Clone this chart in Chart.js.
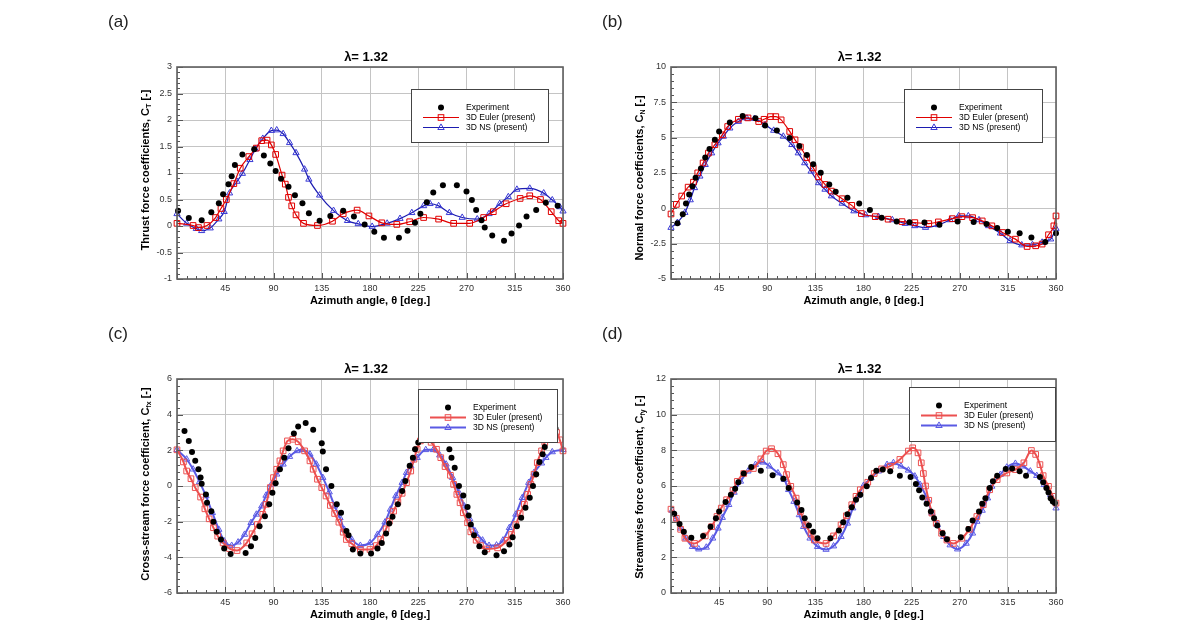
<!DOCTYPE html>
<html>
<head>
<meta charset="utf-8">
<script src="https://cdn.jsdelivr.net/npm/chart.js@4/dist/chart.umd.min.js"></script>
<style>
  body { margin: 0; background: #fff; width: 1197px; height: 639px; overflow: hidden; position: relative; }
  canvas { position: absolute; left: 0; top: 0; }
</style>
</head>
<body>
<canvas id="pa" width="1197" height="639"></canvas>
<canvas id="pb" width="1197" height="639"></canvas>
<canvas id="pc" width="1197" height="639"></canvas>
<canvas id="pd" width="1197" height="639"></canvas>
<script>
// (a) thrust force
const aExpTheta = [1,11,23,32,39,43,48,51,54,61,72,81,87,92,97,104,110,117,123,133,143,155,165,175,184,193,207,215,222,227,233,239,248,261,270,275,279,284,287,294,305,312,319,326,335,344,355];
const aExpVal = [0.29,0.15,0.11,0.26,0.43,0.60,0.79,0.94,1.15,1.35,1.45,1.33,1.18,1.04,0.89,0.74,0.58,0.43,0.24,0.10,0.19,0.29,0.18,0.03,-0.11,-0.22,-0.22,-0.09,0.06,0.23,0.45,0.63,0.77,0.77,0.65,0.49,0.30,0.11,-0.03,-0.18,-0.28,-0.14,0.01,0.18,0.30,0.44,0.38];
const aEulerTheta = [0,15,20,28,36,41,46,53,59,67,74,79,84,88,92,98,101,104,107,111,118,131,145,155,168,179,191,205,217,230,244,258,273,286,295,307,320,329,339,349,356,360];
const aEulerVal = [0.05,0.01,-0.03,0.01,0.16,0.33,0.50,0.80,1.09,1.31,1.47,1.61,1.62,1.53,1.35,0.96,0.79,0.54,0.38,0.21,0.05,0.01,0.09,0.23,0.30,0.19,0.06,0.03,0.08,0.16,0.13,0.05,0.05,0.16,0.27,0.42,0.52,0.57,0.50,0.27,0.10,0.05];
const aNsTheta = [0,9,18,23,31,39,44,49,56,61,68,73,80,88,93,99,105,111,119,123,133,146,159,169,182,196,208,219,230,236,244,254,266,280,291,301,309,317,329,342,350,357,360];
const aNsVal = [0.23,0.05,-0.05,-0.09,-0.04,0.13,0.27,0.62,0.84,0.99,1.25,1.45,1.65,1.80,1.81,1.74,1.57,1.38,1.07,0.88,0.58,0.29,0.10,0.04,-0.01,0.05,0.14,0.25,0.38,0.42,0.38,0.25,0.16,0.13,0.23,0.42,0.55,0.69,0.71,0.62,0.49,0.36,0.28];

// (b) normal force
const bExpTheta = [6,11,14,17,20,23,28,32,36,41,45,55,67,79,88,99,111,120,127,133,140,148,154,165,176,186,197,211,223,237,251,268,283,295,305,315,326,337,350,360];
const bExpVal = [-1.05,-0.42,0.35,0.98,1.57,2.16,2.81,3.59,4.20,4.85,5.44,6.07,6.54,6.37,5.86,5.51,4.97,4.41,3.77,3.12,2.51,1.69,1.17,0.75,0.35,-0.12,-0.66,-0.94,-0.98,-1.0,-1.17,-0.94,-0.96,-1.1,-1.4,-1.66,-1.76,-2.06,-2.39,-1.76];
const bEulerTheta = [0,5,10,16,21,25,30,35,41,48,53,63,72,82,87,93,98,103,111,116,121,127,133,138,144,150,160,169,178,191,203,216,228,241,250,263,272,282,291,300,310,322,333,341,347,353,358,360];
const bEulerVal = [-0.4,0.28,0.87,1.5,1.85,2.51,3.21,3.91,4.5,5.2,5.79,6.3,6.4,6.14,6.3,6.49,6.49,6.26,5.44,4.85,4.34,3.59,2.86,2.23,1.69,1.22,0.68,0.21,-0.37,-0.59,-0.77,-0.94,-1.01,-1.08,-0.96,-0.73,-0.59,-0.66,-0.89,-1.24,-1.71,-2.18,-2.7,-2.65,-2.53,-1.87,-1.24,-0.54];
const bNsTheta = [0,6,13,18,22,27,32,38,44,49,55,63,71,78,88,96,105,113,119,125,131,138,144,150,160,171,182,194,207,219,228,238,250,261,269,278,288,297,308,317,328,338,347,355,360];
const bNsVal = [-1.36,-1.01,-0.3,0.59,1.45,2.27,3.09,3.91,4.62,5.09,5.67,6.14,6.37,6.35,5.91,5.51,5.09,4.5,3.91,3.21,2.62,1.8,1.34,0.87,0.35,-0.19,-0.47,-0.59,-0.82,-1.08,-1.24,-1.36,-1.17,-0.82,-0.54,-0.54,-0.82,-1.24,-1.76,-2.3,-2.6,-2.58,-2.41,-2.18,-1.43];

// (c) cross-stream force
const cExpTheta = [7,11,14,17,20,22,23,27,28,32,34,37,41,44,50,64,69,73,77,82,86,89,92,96,100,104,109,113,120,127,135,136,139,144,149,153,158,160,164,171,181,187,191,195,198,201,206,210,213,217,220,222,225,229,234,240,247,251,254,256,259,263,267,271,272,274,277,282,287,298,305,310,313,317,321,325,329,332,335,338,341,343,353];
const cExpVal = [3.09,2.53,1.91,1.41,0.94,0.47,0.13,-0.47,-0.94,-1.41,-2.0,-2.57,-3.0,-3.51,-3.81,-3.75,-3.38,-2.91,-2.25,-1.69,-1.03,-0.38,0.15,0.94,1.59,2.12,2.94,3.34,3.53,3.15,2.4,1.93,0.94,0.0,-1.03,-1.5,-2.53,-2.76,-3.56,-3.79,-3.79,-3.51,-3.19,-2.66,-2.1,-1.73,-1.03,-0.28,0.28,1.13,1.59,2.06,2.44,3.0,3.4,3.5,3.2,2.7,2.06,1.59,1.03,0.0,-0.53,-1.18,-1.65,-2.16,-2.76,-3.38,-3.71,-3.88,-3.66,-3.28,-2.87,-2.25,-1.78,-1.22,-0.66,0.0,0.66,1.35,1.78,2.19,3.23];
const cEulerTheta = [0,6,9,13,17,22,26,30,34,38,43,49,56,65,70,75,80,83,87,90,93,96,99,103,108,113,119,124,127,131,135,139,143,147,151,155,158,163,171,180,186,190,195,198,202,206,210,214,218,221,224,227,232,237,242,246,250,255,258,261,264,267,271,274,279,283,289,299,308,312,316,320,324,327,330,333,336,340,343,349,354,357,360];
const cEulerVal = [2.03,1.35,0.84,0.41,-0.09,-0.62,-1.28,-1.84,-2.34,-2.81,-3.19,-3.51,-3.62,-3.19,-2.68,-2.16,-1.59,-1.03,-0.09,0.47,0.94,1.41,1.97,2.53,2.62,2.48,1.97,1.41,0.94,0.38,-0.09,-0.56,-1.09,-1.54,-2.03,-2.59,-3.0,-3.23,-3.56,-3.56,-3.34,-3.0,-2.4,-1.97,-1.41,-0.9,-0.41,0.19,0.84,1.5,2.06,2.53,2.6,2.45,2.06,1.59,1.09,0.6,0.09,-0.47,-0.94,-1.5,-2.06,-2.57,-3.04,-3.34,-3.53,-3.47,-3.04,-2.72,-2.16,-1.54,-1.03,-0.47,0.09,0.66,1.31,1.97,2.44,2.91,3.0,2.59,1.97];
const cNsTheta = [0,9,15,21,27,33,39,44,51,57,63,69,74,79,83,88,93,99,105,112,117,124,130,136,142,147,152,156,163,171,180,187,194,199,204,210,214,218,224,232,239,245,251,257,263,268,273,278,285,291,298,304,310,316,322,328,333,340,344,350,360];
const cNsVal = [2.03,1.5,0.94,0.23,-0.56,-1.5,-2.44,-3.09,-3.34,-3.15,-2.72,-2.06,-1.59,-1.13,-0.53,0.09,0.66,1.22,1.65,1.97,2.03,1.78,1.22,0.47,-0.34,-1.13,-1.78,-2.44,-3.0,-3.34,-3.19,-2.72,-2.03,-1.31,-0.56,0.19,0.75,1.13,1.59,2.03,2.03,1.73,1.22,0.47,-0.38,-1.13,-1.84,-2.53,-3.04,-3.34,-3.32,-3.04,-2.34,-1.59,-0.66,0.19,0.75,1.28,1.59,1.91,2.03];

// (d) streamwise force
const dExpTheta = [3,8,12,19,30,37,42,45,51,56,60,63,68,75,84,95,105,110,118,122,125,129,133,137,149,157,161,165,169,173,177,183,187,192,198,205,214,224,229,232,235,239,243,246,249,254,258,271,278,282,288,291,294,298,301,305,313,319,326,332,345,348,351,353,355,357,359];
const dExpVal = [4.44,3.87,3.44,3.1,3.2,3.72,4.19,4.57,5.1,5.51,5.85,6.21,6.7,7.07,6.86,6.6,6.41,5.89,5.08,4.66,4.19,3.78,3.44,3.07,3.07,3.5,3.97,4.42,4.81,5.23,5.51,5.98,6.45,6.86,6.92,6.83,6.58,6.51,6.11,5.76,5.36,5.0,4.57,4.19,3.78,3.35,3.01,3.12,3.59,4.06,4.57,5.0,5.32,5.89,6.26,6.58,6.96,6.98,6.83,6.58,6.51,6.21,5.89,5.64,5.32,5.13,5.04];
const dEulerTheta = [0,5,9,13,22,32,38,43,47,52,58,62,68,77,84,89,94,100,105,108,112,117,121,126,131,134,145,152,159,164,169,173,177,184,190,197,205,214,222,226,231,234,236,238,241,244,248,253,258,264,272,279,286,292,298,305,314,322,330,337,341,345,348,353,357,360];
const dEulerVal = [4.7,4.19,3.57,3.07,2.78,3.2,3.72,4.29,4.76,5.23,5.76,6.26,6.7,6.98,7.52,7.96,8.09,7.81,7.2,6.64,5.98,5.32,4.57,3.82,3.31,2.97,2.78,3.2,3.82,4.33,4.95,5.42,5.79,6.21,6.7,6.96,7.11,7.49,7.96,8.14,7.86,7.3,6.7,6.0,5.2,4.48,3.91,3.35,2.97,2.78,3.07,3.57,4.29,4.95,5.79,6.36,6.73,6.92,7.3,7.99,7.77,7.2,6.58,5.98,5.42,5.04];
const dNsTheta = [1,5,9,14,20,26,33,39,44,48,54,59,65,72,79,86,92,100,106,110,115,120,124,130,137,145,152,159,165,170,175,180,187,194,202,208,215,222,228,233,240,244,249,255,261,268,276,282,286,291,296,300,308,314,322,329,336,342,349,355,360];
const dNsVal = [4.63,4.16,3.63,3.07,2.6,2.46,2.56,3.07,3.63,4.23,4.95,5.64,6.26,6.83,7.2,7.33,7.11,6.73,6.36,5.79,5.13,4.38,3.72,3.07,2.6,2.44,2.63,3.16,3.91,4.76,5.45,6.02,6.45,6.83,7.2,7.3,7.11,6.88,6.55,6.07,5.23,4.48,3.82,3.16,2.69,2.46,2.78,3.35,4.01,4.63,5.32,5.98,6.64,7.05,7.26,7.11,6.83,6.58,6.07,5.51,4.76];

const seriesNames = ['Experiment', '3D Euler (present)', '3D NS (present)'];
const xTitle = 'Azimuth angle, \u03b8 [deg.]';
const chartTitle = '\u03bb= 1.32';

const FONT = "'Liberation Sans', Arial, sans-serif";
const W = 1197, H = 639;

const pts = (t, v) => t.map((x, i) => ({ x: x, y: v[i] }));

const panels = [
  { id: 'pa', tag: '(a)', tagX: 108, tagY: 22,
    area: { l: 177, r: 563, t: 67, b: 279 },
    yMin: -1, yMax: 3, yStep: 0.5, yMinor: 0.1,
    yTitle: ['Thrust force coefficients, C', 'T', ' [-]'], yTitleY: 170,
    exp: [aExpTheta, aExpVal], euler: [aEulerTheta, aEulerVal], ns: [aNsTheta, aNsVal],
    legend: { x: 411, y: 89, w: 137, h: 53 },
    red: '#e00000', blue: '#1c1cb0', blueMark: '#3a3ad6', lw: 1.2 },
  { id: 'pb', tag: '(b)', tagX: 602, tagY: 22,
    area: { l: 671, r: 1056, t: 67, b: 279 },
    yMin: -5, yMax: 10, yStep: 2.5, yMinor: 0.5,
    yTitle: ['Normal force coefficients, C', 'N', ' [-]'], yTitleY: 178,
    exp: [bExpTheta, bExpVal], euler: [bEulerTheta, bEulerVal], ns: [bNsTheta, bNsVal],
    legend: { x: 904, y: 89, w: 138, h: 53 },
    red: '#e00000', blue: '#1c1cb0', blueMark: '#3a3ad6', lw: 1.2 },
  { id: 'pc', tag: '(c)', tagX: 108, tagY: 334,
    area: { l: 177, r: 563, t: 379, b: 593 },
    yMin: -6, yMax: 6, yStep: 2, yMinor: 0.4,
    yTitle: ['Cross-stream force coefficient, C', 'fx', ' [-]'], yTitleY: 484,
    exp: [cExpTheta, cExpVal], euler: [cEulerTheta, cEulerVal], ns: [cNsTheta, cNsVal],
    legend: { x: 418, y: 389, w: 139, h: 53 },
    red: '#ec5050', blue: '#5a5ae4', blueMark: '#5a5ae4', lw: 2 },
  { id: 'pd', tag: '(d)', tagX: 602, tagY: 334,
    area: { l: 671, r: 1056, t: 379, b: 593 },
    yMin: 0, yMax: 12, yStep: 2, yMinor: 0.4,
    yTitle: ['Streamwise force coefficient, C', 'fy', ' [-]'], yTitleY: 487,
    exp: [dExpTheta, dExpVal], euler: [dEulerTheta, dEulerVal], ns: [dNsTheta, dNsVal],
    legend: { x: 909, y: 387, w: 146, h: 54 },
    red: '#ec5050', blue: '#5a5ae4', blueMark: '#5a5ae4', lw: 2 }
];

function drawSquare(ctx, x, y, color) {
  ctx.strokeStyle = color; ctx.lineWidth = 1;
  ctx.strokeRect(x - 2.8, y - 2.8, 5.6, 5.6);
}
function drawTriangle(ctx, x, y, color) {
  ctx.strokeStyle = color; ctx.lineWidth = 1;
  ctx.beginPath();
  ctx.moveTo(x, y - 3.6); ctx.lineTo(x + 3.2, y + 2); ctx.lineTo(x - 3.2, y + 2); ctx.closePath();
  ctx.stroke();
}

function makeDecor(p) {
  return {
    id: 'decor_' + p.id,
    afterDatasetsDraw(chart) {
      const ctx = chart.ctx, a = chart.chartArea;
      const xs = chart.scales.x, ys = chart.scales.y;
      ctx.save();
      // minor and major ticks, pointing inward
      ctx.strokeStyle = '#555'; ctx.lineWidth = 1;
      ctx.beginPath();
      for (let t = 0; t <= 360; t += 9) {
        const x = Math.round(xs.getPixelForValue(t)) + 0.5;
        const len = t % 45 === 0 ? 6 : 3;
        ctx.moveTo(x, a.bottom); ctx.lineTo(x, a.bottom - len);
      }
      const n = Math.round((p.yMax - p.yMin) / p.yMinor);
      const per = Math.round(p.yStep / p.yMinor);
      for (let i = 0; i <= n; i++) {
        const y = Math.round(ys.getPixelForValue(p.yMin + i * p.yMinor)) + 0.5;
        ctx.moveTo(a.left, y); ctx.lineTo(a.left + (i % per === 0 ? 6 : 3), y);
      }
      ctx.stroke();
      // frame
      ctx.strokeStyle = '#606060'; ctx.lineWidth = 1.6;
      ctx.strokeRect(a.left, a.top, a.right - a.left, a.bottom - a.top);

      // legend box
      const L = p.legend;
      ctx.fillStyle = '#fff';
      ctx.fillRect(L.x, L.y, L.w, L.h);
      ctx.strokeStyle = '#444'; ctx.lineWidth = 1;
      ctx.strokeRect(L.x + 0.5, L.y + 0.5, L.w, L.h);
      const mx = L.x + 30, x0 = L.x + 12, x1 = L.x + 48;
      const rows = [L.y + 18.5, L.y + 28.5, L.y + 38.5];
      ctx.fillStyle = '#000';
      ctx.beginPath(); ctx.arc(mx, rows[0], 3, 0, Math.PI * 2); ctx.fill();
      ctx.lineWidth = p.lw;
      ctx.strokeStyle = p.red;
      ctx.beginPath(); ctx.moveTo(x0, rows[1]); ctx.lineTo(x1, rows[1]); ctx.stroke();
      drawSquare(ctx, mx, rows[1], p.red);
      ctx.lineWidth = p.lw;
      ctx.strokeStyle = p.blue;
      ctx.beginPath(); ctx.moveTo(x0, rows[2]); ctx.lineTo(x1, rows[2]); ctx.stroke();
      drawTriangle(ctx, mx, rows[2], p.blueMark);
      ctx.fillStyle = '#000';
      ctx.font = '8.5px ' + FONT;
      ctx.textAlign = 'left'; ctx.textBaseline = 'middle';
      seriesNames.forEach((s, i) => ctx.fillText(s, L.x + 55, rows[i]));
      ctx.restore();
    },
    afterDraw(chart) {
      const ctx = chart.ctx, a = chart.chartArea;
      const cx = (a.left + a.right) / 2;
      ctx.save();
      ctx.fillStyle = '#222';
      ctx.textBaseline = 'middle';
      // panel tag
      ctx.font = '17px ' + FONT; ctx.textAlign = 'left';
      ctx.fillText(p.tag, p.tagX, p.tagY);
      // title
      ctx.fillStyle = '#000';
      ctx.font = 'bold 13px ' + FONT; ctx.textAlign = 'center';
      ctx.fillText(chartTitle, cx - 4, a.top - 10);
      // x title
      ctx.font = 'bold 11px ' + FONT;
      ctx.fillText(xTitle, cx, a.bottom + 22);
      // y title with subscript
      ctx.translate(a.left - 31, p.yTitleY);
      ctx.rotate(-Math.PI / 2);
      ctx.textAlign = 'left'; ctx.textBaseline = 'middle';
      const fMain = 'bold 11px ' + FONT, fSub = 'bold 7px ' + FONT;
      ctx.font = fMain;
      const w1 = ctx.measureText(p.yTitle[0]).width, w3 = ctx.measureText(p.yTitle[2]).width;
      ctx.font = fSub;
      const w2 = ctx.measureText(p.yTitle[1]).width;
      let x = -(w1 + w2 + w3) / 2;
      ctx.font = fMain; ctx.fillText(p.yTitle[0], x, 0); x += w1;
      ctx.font = fSub; ctx.fillText(p.yTitle[1], x, 3); x += w2;
      ctx.font = fMain; ctx.fillText(p.yTitle[2], x, 0);
      ctx.restore();
    }
  };
}

panels.forEach(p => {
  const A = p.area;
  new Chart(document.getElementById(p.id), {
    type: 'scatter',
    data: {
      datasets: [{
        label: seriesNames[0],
        data: pts(p.exp[0], p.exp[1]),
        showLine: false,
        pointStyle: 'circle',
        pointRadius: 3,
        pointBackgroundColor: '#000',
        pointBorderColor: '#000',
        pointBorderWidth: 0,
        clip: false
      }, {
        label: seriesNames[1],
        data: pts(p.euler[0], p.euler[1]),
        showLine: true,
        borderColor: p.red,
        borderWidth: p.lw,
        cubicInterpolationMode: 'monotone',
        pointStyle: 'rect',
        pointRadius: 4,
        pointBorderColor: p.red,
        pointBackgroundColor: 'rgba(0,0,0,0)',
        pointBorderWidth: 1,
        clip: false
      }, {
        label: seriesNames[2],
        data: pts(p.ns[0], p.ns[1]),
        showLine: true,
        borderColor: p.blue,
        borderWidth: p.lw,
        cubicInterpolationMode: 'monotone',
        pointStyle: 'triangle',
        pointRadius: 3.6,
        pointBorderColor: p.blueMark,
        pointBackgroundColor: 'rgba(0,0,0,0)',
        pointBorderWidth: 1,
        clip: false
      }]
    },
    options: {
      responsive: false,
      animation: false,
      devicePixelRatio: 1,
      layout: { padding: { left: A.l - 40, right: W - A.r, top: A.t, bottom: H - A.b - 30 } },
      plugins: { legend: { display: false }, tooltip: { enabled: false }, title: { display: false } },
      scales: {
        x: {
          type: 'linear', min: 0, max: 360,
          afterFit(s) { s.height = 30; },
          grid: { color: '#c4c4c4', lineWidth: 1, drawTicks: false },
          border: { display: false },
          ticks: {
            stepSize: 45, padding: 4, maxRotation: 0, autoSkip: false,
            color: '#333', font: { family: FONT, size: 9 },
            callback: v => v === 0 ? '' : String(v)
          }
        },
        y: {
          type: 'linear', min: p.yMin, max: p.yMax,
          afterFit(s) { s.width = 40; },
          grid: { color: '#c4c4c4', lineWidth: 1, drawTicks: false },
          border: { display: false },
          ticks: {
            stepSize: p.yStep, padding: 5, autoSkip: false,
            color: '#333', font: { family: FONT, size: 9 },
            callback: v => String(v)
          }
        }
      }
    },
    plugins: [makeDecor(p)]
  });
});
</script>
</body>
</html>
